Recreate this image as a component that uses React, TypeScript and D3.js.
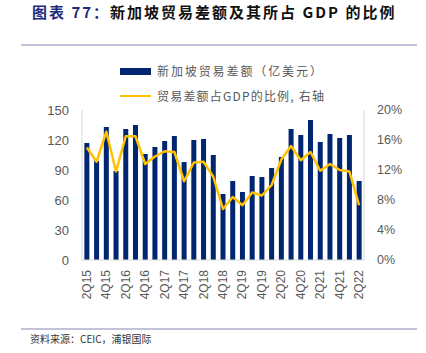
import * as d3 from 'd3'
import { useEffect, useRef } from 'react'

const quarters = [
  '2Q15', '3Q15', '4Q15', '1Q16', '2Q16', '3Q16', '4Q16', '1Q17', '2Q17', '3Q17',
  '4Q17', '1Q18', '2Q18', '3Q18', '4Q18', '1Q19', '2Q19', '3Q19', '4Q19', '1Q20',
  '2Q20', '3Q20', '4Q20', '1Q21', '2Q21', '3Q21', '4Q21', '1Q22', '2Q22',
]
// 新加坡贸易差额（亿美元）
const balance = [
  117, 99, 133, 89, 131, 135, 106, 113, 119, 124,
  98, 120, 121, 105, 66, 79, 68, 84, 83, 92,
  103, 131, 125, 140, 118, 126, 122, 125, 79,
]
// 贸易差额占GDP的比例（%），右轴
const ratio = [
  15.0, 13.1, 17.1, 11.8, 16.5, 16.5, 12.8, 13.8, 14.5, 14.4,
  10.5, 13.0, 13.1, 11.1, 6.8, 8.4, 7.3, 9.0, 8.6, 10.0,
  13.4, 15.2, 13.3, 14.4, 11.9, 12.8, 12.0, 11.8, 7.3,
]
const leftTicks = [0, 30, 60, 90, 120, 150]
const rightTicks = [0, 4, 8, 12, 16, 20]
const labelEvery = 2

const W = 426, H = 353
const m = { left: 82, right: 364, top: 110, bottom: 260 }
const BAR = '#002672'
const LINE = '#FFC000'
const TXT = '#595959'
const FONT = '"Liberation Sans", "Noto Sans CJK SC", sans-serif'
const CJK = '"Noto Sans CJK SC", sans-serif'

export default function App() {
  const ref = useRef<SVGSVGElement | null>(null)

  useEffect(() => {
    if (!ref.current) return
    const svg = d3.select(ref.current)
    svg.selectAll('*').remove()

    const x = d3.scaleBand<number>().domain(quarters.map((_, i) => i)).range([m.left, m.right])
    const yL = d3.scaleLinear().domain([0, 150]).range([m.bottom, m.top])
    const yR = d3.scaleLinear().domain([0, 20]).range([m.bottom, m.top])
    const cx = (i: number) => (x(i) ?? 0) + x.bandwidth() / 2
    const bw = 5

    // title
    const title = svg.append('text').attr('x', 32).attr('y', 18)
      .attr('font-family', CJK).attr('font-size', 15).attr('font-weight', 'bold')
      .attr('letter-spacing', 2)
    title.append('tspan').attr('fill', '#1F2D7B').text('图表 77：')
    title.append('tspan').attr('fill', '#111').text('新加坡贸易差额及其所占 GDP 的比例')

    svg.append('line').attr('x1', 21).attr('x2', 417).attr('y1', 45).attr('y2', 45)
      .attr('stroke', '#8585B2').attr('stroke-width', 1)
    svg.append('line').attr('x1', 21).attr('x2', 417).attr('y1', 329).attr('y2', 329)
      .attr('stroke', '#8585B2').attr('stroke-width', 1)

    // legend
    svg.append('rect').attr('x', 120).attr('y', 68).attr('width', 31).attr('height', 7).attr('fill', BAR)
    svg.append('text').attr('x', 157).attr('y', 75.5).attr('font-family', CJK).attr('font-size', 12)
      .attr('letter-spacing', 1.9).attr('fill', TXT).text('新加坡贸易差额（亿美元）')
    svg.append('line').attr('x1', 120).attr('x2', 151).attr('y1', 96).attr('y2', 96)
      .attr('stroke', LINE).attr('stroke-width', 2)
    svg.append('text').attr('x', 157).attr('y', 100.5).attr('font-family', CJK).attr('font-size', 12)
      .attr('letter-spacing', 1.2).attr('fill', TXT).text('贸易差额占GDP的比例, 右轴')

    // frame lines
    const frame = '#D9D9D9'
    svg.append('line').attr('x1', m.left).attr('x2', m.left).attr('y1', m.top).attr('y2', m.bottom).attr('stroke', frame)
    svg.append('line').attr('x1', m.right).attr('x2', m.right).attr('y1', m.top).attr('y2', m.bottom).attr('stroke', frame)

    // bars
    svg.append('g').selectAll('rect').data(balance).enter().append('rect')
      .attr('x', (_, i) => cx(i) - bw / 2).attr('width', bw)
      .attr('y', d => yL(d)).attr('height', d => yL(0) - yL(d))
      .attr('fill', BAR)

    svg.append('line').attr('x1', m.left).attr('x2', m.right).attr('y1', m.bottom).attr('y2', m.bottom).attr('stroke', frame)

    // line
    const line = d3.line<number>().x((_, i) => cx(i)).y(d => yR(d))
    svg.append('path').datum(ratio).attr('d', line).attr('fill', 'none')
      .attr('stroke', LINE).attr('stroke-width', 2.5).attr('stroke-linejoin', 'round')

    // left ticks
    svg.append('g').selectAll('text').data(leftTicks).enter().append('text')
      .attr('x', 69).attr('y', d => yL(d)).attr('dy', '0.35em').attr('text-anchor', 'end')
      .attr('font-family', FONT).attr('font-size', 13).attr('fill', TXT).text(d => d)
    // right ticks
    svg.append('g').selectAll('text').data(rightTicks).enter().append('text')
      .attr('x', 377).attr('y', d => yR(d)).attr('dy', '0.35em').attr('text-anchor', 'start')
      .attr('font-family', FONT).attr('font-size', 12.5).attr('fill', TXT).text(d => `${d}%`)
    // x labels
    svg.append('g').selectAll('text')
      .data(quarters.map((q, i) => ({ q, i })).filter(d => d.i % labelEvery === 0)).enter().append('text')
      .attr('transform', d => `translate(${cx(d.i) + 4},270) rotate(-90)`)
      .attr('text-anchor', 'end').attr('font-family', FONT).attr('font-size', 12).attr('fill', TXT)
      .text(d => d.q)

    // source
    svg.append('text').attr('x', 30).attr('y', 343).attr('font-family', CJK).attr('font-size', 10)
      .attr('fill', '#333').text('资料来源：CEIC，浦银国际')
  }, [])

  return (
    <svg ref={ref} width={W} height={H}
      style={{ position: 'fixed', left: 0, top: 0, background: '#fff', display: 'block' }} />
  )
}
